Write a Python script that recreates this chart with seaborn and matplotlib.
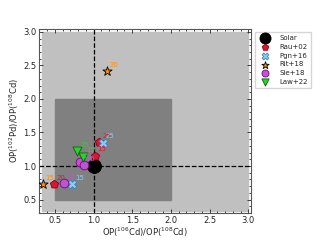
"""Pd/Cd production-factor ratio comparison chart."""

import matplotlib
matplotlib.use("Agg")
import matplotlib.pyplot as plt
import matplotlib.patches as mpatches
from matplotlib.ticker import MultipleLocator
import pandas as pd
import seaborn as sns

sns.set_style("ticks")
plt.rcParams["font.family"] = ["DejaVu Sans"]

# data
solar_x = [1.0]
solar_y = [1.0]

rau_x = [0.49, 1.015, 1.075]
rau_y = [0.737, 1.155, 1.357]
rau_lab = ["20", "15", "25"]

pgn_x = [0.722, 1.12]
pgn_y = [0.73, 1.35]
pgn_lab = ["15", "25"]

rit_x = [0.345, 1.17]
rit_y = [0.737, 2.42]
rit_lab = ["15", "20"]

sie_x = [0.62, 0.82, 0.88]
sie_y = [0.747, 1.058, 1.01]
sie_lab = ["20", "15", "25"]

law_x = [0.79, 0.868]
law_y = [1.217, 1.14]
law_lab = ["25", "15"]

groups = [
    ("Solar", solar_x, solar_y, None, "o", "black", "black", 100),
    ("Rau+02", rau_x, rau_y, rau_lab, "p", "crimson", "darkred", 38),
    ("Pgn+16", pgn_x, pgn_y, pgn_lab, "X", "lightskyblue", "steelblue", 38),
    ("Rit+18", rit_x, rit_y, rit_lab, "*", "darkorange", "black", 48),
    ("Sie+18", sie_x, sie_y, sie_lab, "o", "mediumorchid", "purple", 40),
    ("Law+22", law_x, law_y, law_lab, "v", "limegreen", "darkgreen", 42),
]
label_colors = {"Rau+02": "crimson", "Pgn+16": "lightskyblue", "Rit+18": "darkorange",
                "Sie+18": "mediumorchid", "Law+22": "limegreen"}

fig = plt.figure(figsize=(3.2, 2.4), dpi=100)
ax = fig.add_axes([0.123, 0.1125, 0.66, 0.7675])
ax.set_facecolor("white")

# factor-3 and factor-2 bands
ax.add_patch(mpatches.Rectangle((1 / 3, 1 / 3), 3 - 1 / 3, 3 - 1 / 3, color="#c0c0c0", zorder=0))
ax.add_patch(mpatches.Rectangle((0.5, 0.5), 1.5, 1.5, color="#808080", zorder=0.5))
ax.axvline(1.0, color="black", ls="--", lw=0.9, zorder=1)
ax.axhline(1.0, color="black", ls="--", lw=0.9, zorder=1)

for name, xs, ys, labs, mk, fc, ec, s in groups:
    df = pd.DataFrame({"x": xs, "y": ys})
    sns.scatterplot(data=df, x="x", y="y", marker=mk, color=fc, edgecolor=ec,
                    linewidth=0.6, s=s, label=name, ax=ax, zorder=3)
    if labs:
        for xi, yi, t in zip(xs, ys, labs):
            ax.annotate(t, (xi, yi), xytext=(2, 3), textcoords="offset points",
                        fontsize=5, color=label_colors[name], zorder=4)

ax.set_xlim(0.3, 3.03)
ax.set_ylim(0.3, 3.045)
ax.xaxis.set_major_locator(MultipleLocator(0.5))
ax.yaxis.set_major_locator(MultipleLocator(0.5))
ax.xaxis.set_minor_locator(MultipleLocator(0.1))
ax.yaxis.set_minor_locator(MultipleLocator(0.1))
ax.tick_params(which="both", direction="in", top=True, right=True, labelsize=6,
               width=0.6, pad=2)
ax.tick_params(which="major", length=3)
ax.tick_params(which="minor", length=1.5)
for sp in ax.spines.values():
    sp.set_linewidth(0.8)
    sp.set_color("#555555")

ax.set_xlabel(r"OP($^{106}$Cd)/OP($^{108}$Cd)", fontsize=6, labelpad=0.5)
ax.set_ylabel(r"OP($^{102}$Pd)/OP($^{108}$Cd)", fontsize=6, labelpad=1.5)

ax.legend(loc="upper left", bbox_to_anchor=(1.02, 0.985), fontsize=5,
          frameon=True, fancybox=False, borderpad=0.5, labelspacing=0.4,
          handletextpad=1.0, borderaxespad=0, markerscale=0.8)

fig.savefig("out.png", dpi=100)
